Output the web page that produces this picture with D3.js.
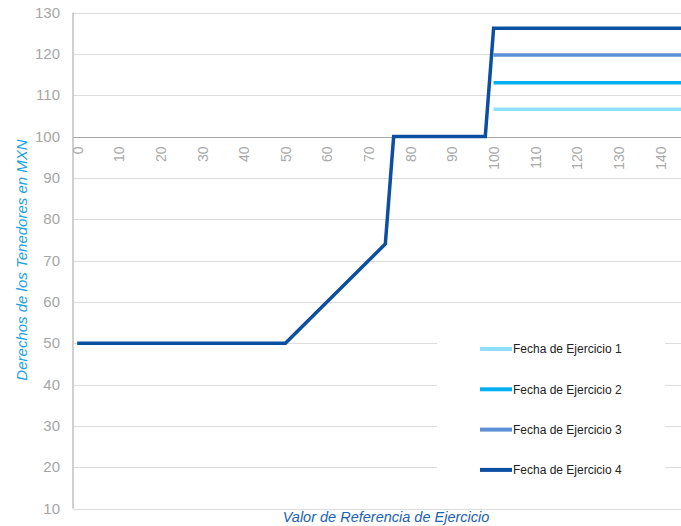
<!DOCTYPE html>
<html>
<head>
<meta charset="utf-8">
<script src="https://cdn.jsdelivr.net/npm/d3@7"></script>
<style>
  body { margin: 0; background: #fff; }
  svg { display: block; font-family: "Liberation Sans", Arial, sans-serif; }
</style>
</head>
<body>
<svg id="chart" width="681" height="526"></svg>
<script>
"use strict";

// series values
const seriesNames = ["Fecha de Ejercicio 1", "Fecha de Ejercicio 2", "Fecha de Ejercicio 3", "Fecha de Ejercicio 4"];
const seriesColors = ["#8fdffa", "#00b0f0", "#5b8fd6", "#0b4fa3"];
const serie1 = [[100, 106.6], [145, 106.6]];
const serie2 = [[100, 113], [145, 113]];
const serie3 = [[100, 119.7], [145, 119.7]];
const serie4 = [[0, 50], [50, 50], [74, 74], [76, 100], [98, 100], [100, 126.2], [145, 126.2]];
const xTicks = [0, 10, 20, 30, 40, 50, 60, 70, 80, 90, 100, 110, 120, 130, 140];
const yTicks = [10, 20, 30, 40, 50, 60, 70, 80, 90, 100, 110, 120, 130];

const svg = d3.select("#chart");
const plotLeft = 73, plotRight = 681, plotTop = 12.5, plotBottom = 508.5;

const x = d3.scaleLinear().domain([-1, 145]).range([plotLeft, plotRight]);
const y = d3.scaleLinear().domain([10, 130]).range([plotBottom, plotTop]);

// horizontal gridlines
svg.append("g")
   .selectAll("line")
   .data(yTicks)
   .enter()
   .append("line")
   .attr("x1", plotLeft)
   .attr("x2", plotRight)
   .attr("y1", d => Math.round(y(d)) + 0.5)
   .attr("y2", d => Math.round(y(d)) + 0.5)
   .attr("stroke", "#dcdcdc")
   .attr("stroke-width", 1);

// y axis labels
const yAxis = d3.axisLeft(y).tickValues(yTicks).tickSize(0).tickPadding(13);
const gy = svg.append("g").attr("transform", "translate(" + plotLeft + ",0)").call(yAxis);
gy.select(".domain").remove();
gy.selectAll("text")
  .attr("fill", "#a6a6a6")
  .style("font-size", "15px")
  .style("font-family", "Liberation Sans, Arial, sans-serif");

// vertical axis line
svg.append("line")
   .attr("x1", plotLeft).attr("x2", plotLeft)
   .attr("y1", plotTop).attr("y2", plotBottom)
   .attr("stroke", "#c0c0c0")
   .attr("stroke-width", 1.5);

// x axis crosses at 100
const xAxis = d3.axisBottom(x).tickValues(xTicks).tickSize(0).tickPadding(0);
const gx = svg.append("g")
              .attr("transform", "translate(0," + (Math.round(y(100)) + 0.5) + ")")
              .call(xAxis);
gx.select(".domain")
  .attr("d", "M" + plotLeft + ",0H" + plotRight)
  .attr("stroke", "#a6a6a6");
gx.selectAll("text")
  .attr("fill", "#a9a9a9")
  .attr("text-anchor", "end")
  .attr("dy", "0.35em")
  .attr("transform", "translate(0,9) rotate(-90)")
  .attr("y", 0)
  .attr("x", 0)
  .style("font-size", "14px")
  .style("font-family", "Liberation Sans, Arial, sans-serif");

// legend box (covers gridlines)
svg.append("rect")
   .attr("x", 437).attr("y", 312)
   .attr("width", 228).attr("height", 185)
   .attr("fill", "#fff");

// lines
const line = d3.line().x(d => x(d[0])).y(d => y(d[1]));
const allSeries = [serie1, serie2, serie3, serie4];
svg.append("g")
   .selectAll("path")
   .data(allSeries)
   .enter()
   .append("path")
   .attr("d", line)
   .attr("fill", "none")
   .attr("stroke", (d, i) => seriesColors[i])
   .attr("stroke-width", 3.5)
   .attr("stroke-linejoin", "miter");

// legend
const legend = svg.append("g")
                  .selectAll("g")
                  .data(seriesNames)
                  .enter()
                  .append("g")
                  .attr("transform", (d, i) => "translate(480," + (349 + i * 40.3) + ")");
legend.append("line")
      .attr("x1", 0).attr("x2", 32)
      .attr("stroke", (d, i) => seriesColors[i])
      .attr("stroke-width", 4);
legend.append("text")
      .attr("x", 33)
      .attr("dy", "0.35em")
      .attr("fill", "#222")
      .style("font-size", "12px")
      .text(d => d);

// axis titles
svg.append("text")
   .attr("transform", "translate(27,260) rotate(-90)")
   .attr("text-anchor", "middle")
   .attr("fill", "#1ba1e2")
   .style("font-size", "15px")
   .style("font-style", "italic")
   .text("Derechos de los Tenedores en MXN");

svg.append("text")
   .attr("x", 386)
   .attr("y", 522)
   .attr("text-anchor", "middle")
   .attr("fill", "#2161b0")
   .style("font-size", "14.5px")
   .style("font-style", "italic")
   .text("Valor de Referencia de Ejercicio");
</script>
</body>
</html>
